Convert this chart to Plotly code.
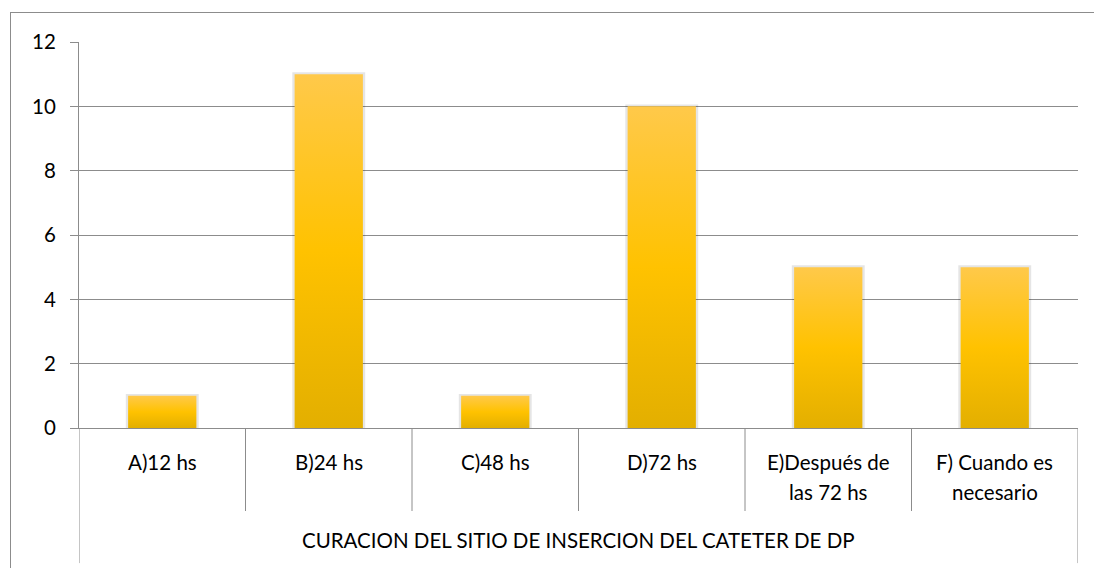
import plotly.graph_objects as go

categories = ["A)12 hs", "B)24 hs", "C)48 hs", "D)72 hs", "E)Después de<br>las 72 hs", "F) Cuando es<br>necesario"]
values = [1, 11, 1, 10, 5, 5]
group_label = "CURACION DEL SITIO DE INSERCION DEL CATETER DE DP"
y_ticks = [0, 2, 4, 6, 8, 10, 12]

FONT = "Lato"
FS = 20.5
GRID = "#8c8c8c"
half = 0.205
pad = 0.014

fig = go.Figure()
for i, v in enumerate(values):
    fig.add_trace(go.Scatter(
        x=[i - half - pad, i + half + pad, i + half + pad, i - half - pad, i - half - pad],
        y=[0, 0, v + 0.06, v + 0.06, 0],
        mode="lines", line=dict(width=0), fill="toself",
        fillcolor="rgba(0,0,0,0.10)", hoverinfo="skip", showlegend=False,
    ))
    fig.add_trace(go.Scatter(
        x=[i - half, i + half, i + half, i - half, i - half],
        y=[0, 0, v, v, 0],
        mode="lines", line=dict(width=0),
        fill="toself",
        fillgradient=dict(type="vertical",
                          colorscale=[[0, "#E3AF00"], [0.5, "#FFC200"], [1, "#FFC94A"]]),
        hoverinfo="skip", showlegend=False,
    ))

for i, c in enumerate(categories):
    for j, line in enumerate(c.split("<br>")):
        fig.add_annotation(x=i, y=[-0.0881, -0.167][j], xref="x", yref="paper",
                           text=line, showarrow=False, yanchor="middle",
                           font=dict(family=FONT, size=FS, color="#000"))
fig.add_annotation(x=2.5, y=-0.29, xref="x", yref="paper", text=group_label,
                   showarrow=False, yanchor="middle", font=dict(family=FONT, size=FS, color="#000"))

shapes = []
n = len(categories)
for k in range(n + 1):
    y0 = -0.35 if k in (0, n) else -0.215
    shapes.append(dict(type="line", xref="x", yref="paper", x0=k - 0.5, x1=k - 0.5,
                       y0=0, y1=y0, line=dict(color=GRID, width=1)))

fig.update_layout(
    width=1094, height=568,
    margin=dict(l=79, r=16, t=42, b=140),
    paper_bgcolor="white", plot_bgcolor="white",
    shapes=shapes,
    xaxis=dict(range=[-0.5, n - 0.5], showticklabels=False, showgrid=False, zeroline=False,
               showline=True, linecolor=GRID, linewidth=1, ticks=""),
    yaxis=dict(range=[0, 12], tickvals=y_ticks, showgrid=True, gridcolor=GRID, gridwidth=1,
               zeroline=False, showline=True, linecolor=GRID, linewidth=1,
               ticks="outside", ticklen=8, tickcolor=GRID, ticklabelstandoff=10,
               tickfont=dict(family=FONT, size=FS, color="#000")),
)

frame_js = (
    "document.body.style.margin='0';document.body.style.overflow='hidden';"
    "var f=document.createElement('div');"
    "f.style.cssText='position:absolute;left:10px;top:12px;width:1200px;height:700px;"
    "border-left:1px solid #8c8c8c;border-top:1px solid #8c8c8c;pointer-events:none;';"
    "document.body.appendChild(f);"
)
fig.write_html("out.html", config={"displayModeBar": False}, post_script=frame_js)
